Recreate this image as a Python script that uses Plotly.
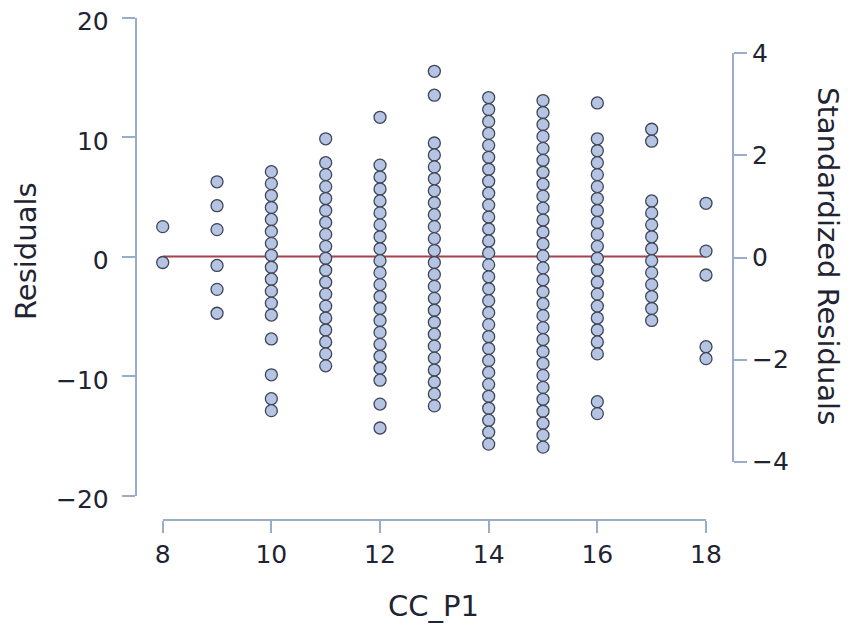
import plotly.graph_objects as go

# ---- data ----
cc_p1_levels = [8, 9, 10, 11, 12, 13, 14, 15, 16, 17, 18]

res_8 = [2.5, -0.5]
res_9 = [6.25, 4.25, 2.25, -0.75, -2.75, -4.75]
res_10 = [7.1, 6.1, 5.1, 4.1, 3.1, 2.1, 1.1, 0.1, -0.9, -1.9, -2.9, -3.9, -4.9,
          -6.9, -9.9, -11.9, -12.9]
res_11 = [9.85, 7.85, 6.85, 5.85, 4.85, 3.85, 2.85, 1.85, 0.85, -0.15, -1.15,
          -2.15, -3.15, -4.15, -5.15, -6.15, -7.15, -8.15, -9.15]
res_12 = [11.65, 7.65, 6.65, 5.65, 4.65, 3.65, 2.65, 1.65, 0.65, -0.35, -1.35,
          -2.35, -3.35, -4.35, -5.35, -6.35, -7.35, -8.35, -9.35, -10.35,
          -12.35, -14.35]
res_13 = [15.5, 13.5, 9.5, 8.5, 7.5, 6.5, 5.5, 4.5, 3.5, 2.5, 1.5, 0.5, -0.5,
          -1.5, -2.5, -3.5, -4.5, -5.5, -6.5, -7.5, -8.5, -9.5, -10.5, -11.5,
          -12.5]
res_14 = [13.3, 12.3, 11.3, 10.3, 9.3, 8.3, 7.3, 6.3, 5.3, 4.3, 3.3, 2.3, 1.3,
          0.3, -0.7, -1.7, -2.7, -3.7, -4.7, -5.7, -6.7, -7.7, -8.7, -9.7,
          -10.7, -11.7, -12.7, -13.7, -14.7, -15.7]
res_15 = [13.05, 12.05, 11.05, 10.05, 9.05, 8.05, 7.05, 6.05, 5.05, 4.05, 3.05,
          2.05, 1.05, 0.05, -0.95, -1.95, -2.95, -3.95, -4.95, -5.95, -6.95,
          -7.95, -8.95, -9.95, -10.95, -11.95, -12.95, -13.95, -14.95, -15.95]
res_16 = [12.85, 9.85, 8.85, 7.85, 6.85, 5.85, 4.85, 3.85, 2.85, 1.85, 0.85,
          -0.15, -1.15, -2.15, -3.15, -4.15, -5.15, -6.15, -7.15, -8.15,
          -12.15, -13.15]
res_17 = [10.65, 9.65, 4.65, 3.65, 2.65, 1.65, 0.65, -0.35, -1.35, -2.35,
          -3.35, -4.35, -5.35]
res_18 = [4.45, 0.45, -1.55, -7.55, -8.55]

residuals_by_level = [res_8, res_9, res_10, res_11, res_12, res_13, res_14,
                      res_15, res_16, res_17, res_18]

fit_x = [8, 18]
fit_y = [0, 0]

x_ticks = [8, 10, 12, 14, 16, 18]
y_ticks = [-20, -10, 0, 10, 20]
std_ticks = [-4, -2, 0, 2, 4]

# ---- flatten for plotting ----
xs, ys = [], []
for lvl, vals in zip(cc_p1_levels, residuals_by_level):
    xs.extend([lvl] * len(vals))
    ys.extend(vals)

# the page body has an 8px margin; work in page pixel coordinates
OFF = 8
W, H = 853 - OFF, 631 - OFF
def px(x):
    return (x - OFF) / W
def py(y):
    return 1 - (y - OFF) / H

FONT = "DejaVu Sans"
TXT = "#1f2433"
AX = "#9aaccc"
TICK = 25
TITLE = 29

fig = go.Figure()
fig.add_trace(go.Scatter(x=fit_x, y=fit_y, mode="lines",
                         line=dict(color="#a8414f", width=2),
                         showlegend=False, hoverinfo="skip", cliponaxis=False))
fig.add_trace(go.Scatter(x=xs, y=ys, mode="markers",
                         marker=dict(size=12, color="#b4c4e2",
                                     line=dict(color="#3e4658", width=1.3)),
                         showlegend=False, cliponaxis=False))
# dummy trace to activate right axis
fig.add_trace(go.Scatter(x=[None], y=[None], yaxis="y2", showlegend=False,
                         hoverinfo="skip"))

fig.update_layout(
    width=W, height=H,
    margin=dict(l=0, r=0, t=0, b=0, autoexpand=False),
    paper_bgcolor="white", plot_bgcolor="rgba(0,0,0,0)",
    font=dict(family=FONT, color=TXT, size=TICK),
    xaxis=dict(domain=[px(162.7), px(706)], range=[8, 18],
               anchor="free", position=py(520), automargin=False,
               tickvals=x_ticks, ticks="outside", ticklen=12, tickwidth=1.5,
               tickcolor=AX, showline=True, linecolor=AX, linewidth=1.5,
               showgrid=False, zeroline=False, tickfont=dict(size=TICK),
               ticklabeloverflow="allow"),
    yaxis=dict(domain=[py(495.5), py(17.5)], range=[-20, 20],
               anchor="free", position=px(135.5), automargin=False,
               tickvals=y_ticks, ticks="outside", ticklen=13, tickwidth=1.5,
               tickcolor=AX, showline=True, linecolor=AX, linewidth=1.5,
               showgrid=False, zeroline=False, tickfont=dict(size=TICK),
               ticklabelstandoff=8, ticklabelshift=4,
               ticklabeloverflow="allow"),
    yaxis2=dict(domain=[py(461.7), py(53.3)], range=[-4, 4],
                anchor="free", position=px(733.3), side="right",
                automargin=False,
                tickvals=std_ticks, ticks="outside", ticklen=13, tickwidth=1.5,
                tickcolor=AX, showline=True, linecolor=AX, linewidth=1.5,
                showgrid=False, zeroline=False, tickfont=dict(size=TICK),
                ticklabeloverflow="allow"),
    annotations=[
        dict(text="CC_P1", x=px(433), y=py(606), xref="paper", yref="paper",
             showarrow=False, font=dict(size=TITLE, family=FONT, color=TXT),
             xanchor="center", yanchor="middle"),
        dict(text="Residuals", x=px(26), y=py(251), xref="paper", yref="paper",
             showarrow=False, textangle=-90,
             font=dict(size=TITLE, family=FONT, color=TXT),
             xanchor="center", yanchor="middle"),
        dict(text="Standardized Residuals", x=px(828), y=py(256),
             xref="paper", yref="paper", showarrow=False, textangle=90,
             font=dict(size=TITLE, family=FONT, color=TXT),
             xanchor="center", yanchor="middle"),
    ],
)

fig.write_html("out.html")
